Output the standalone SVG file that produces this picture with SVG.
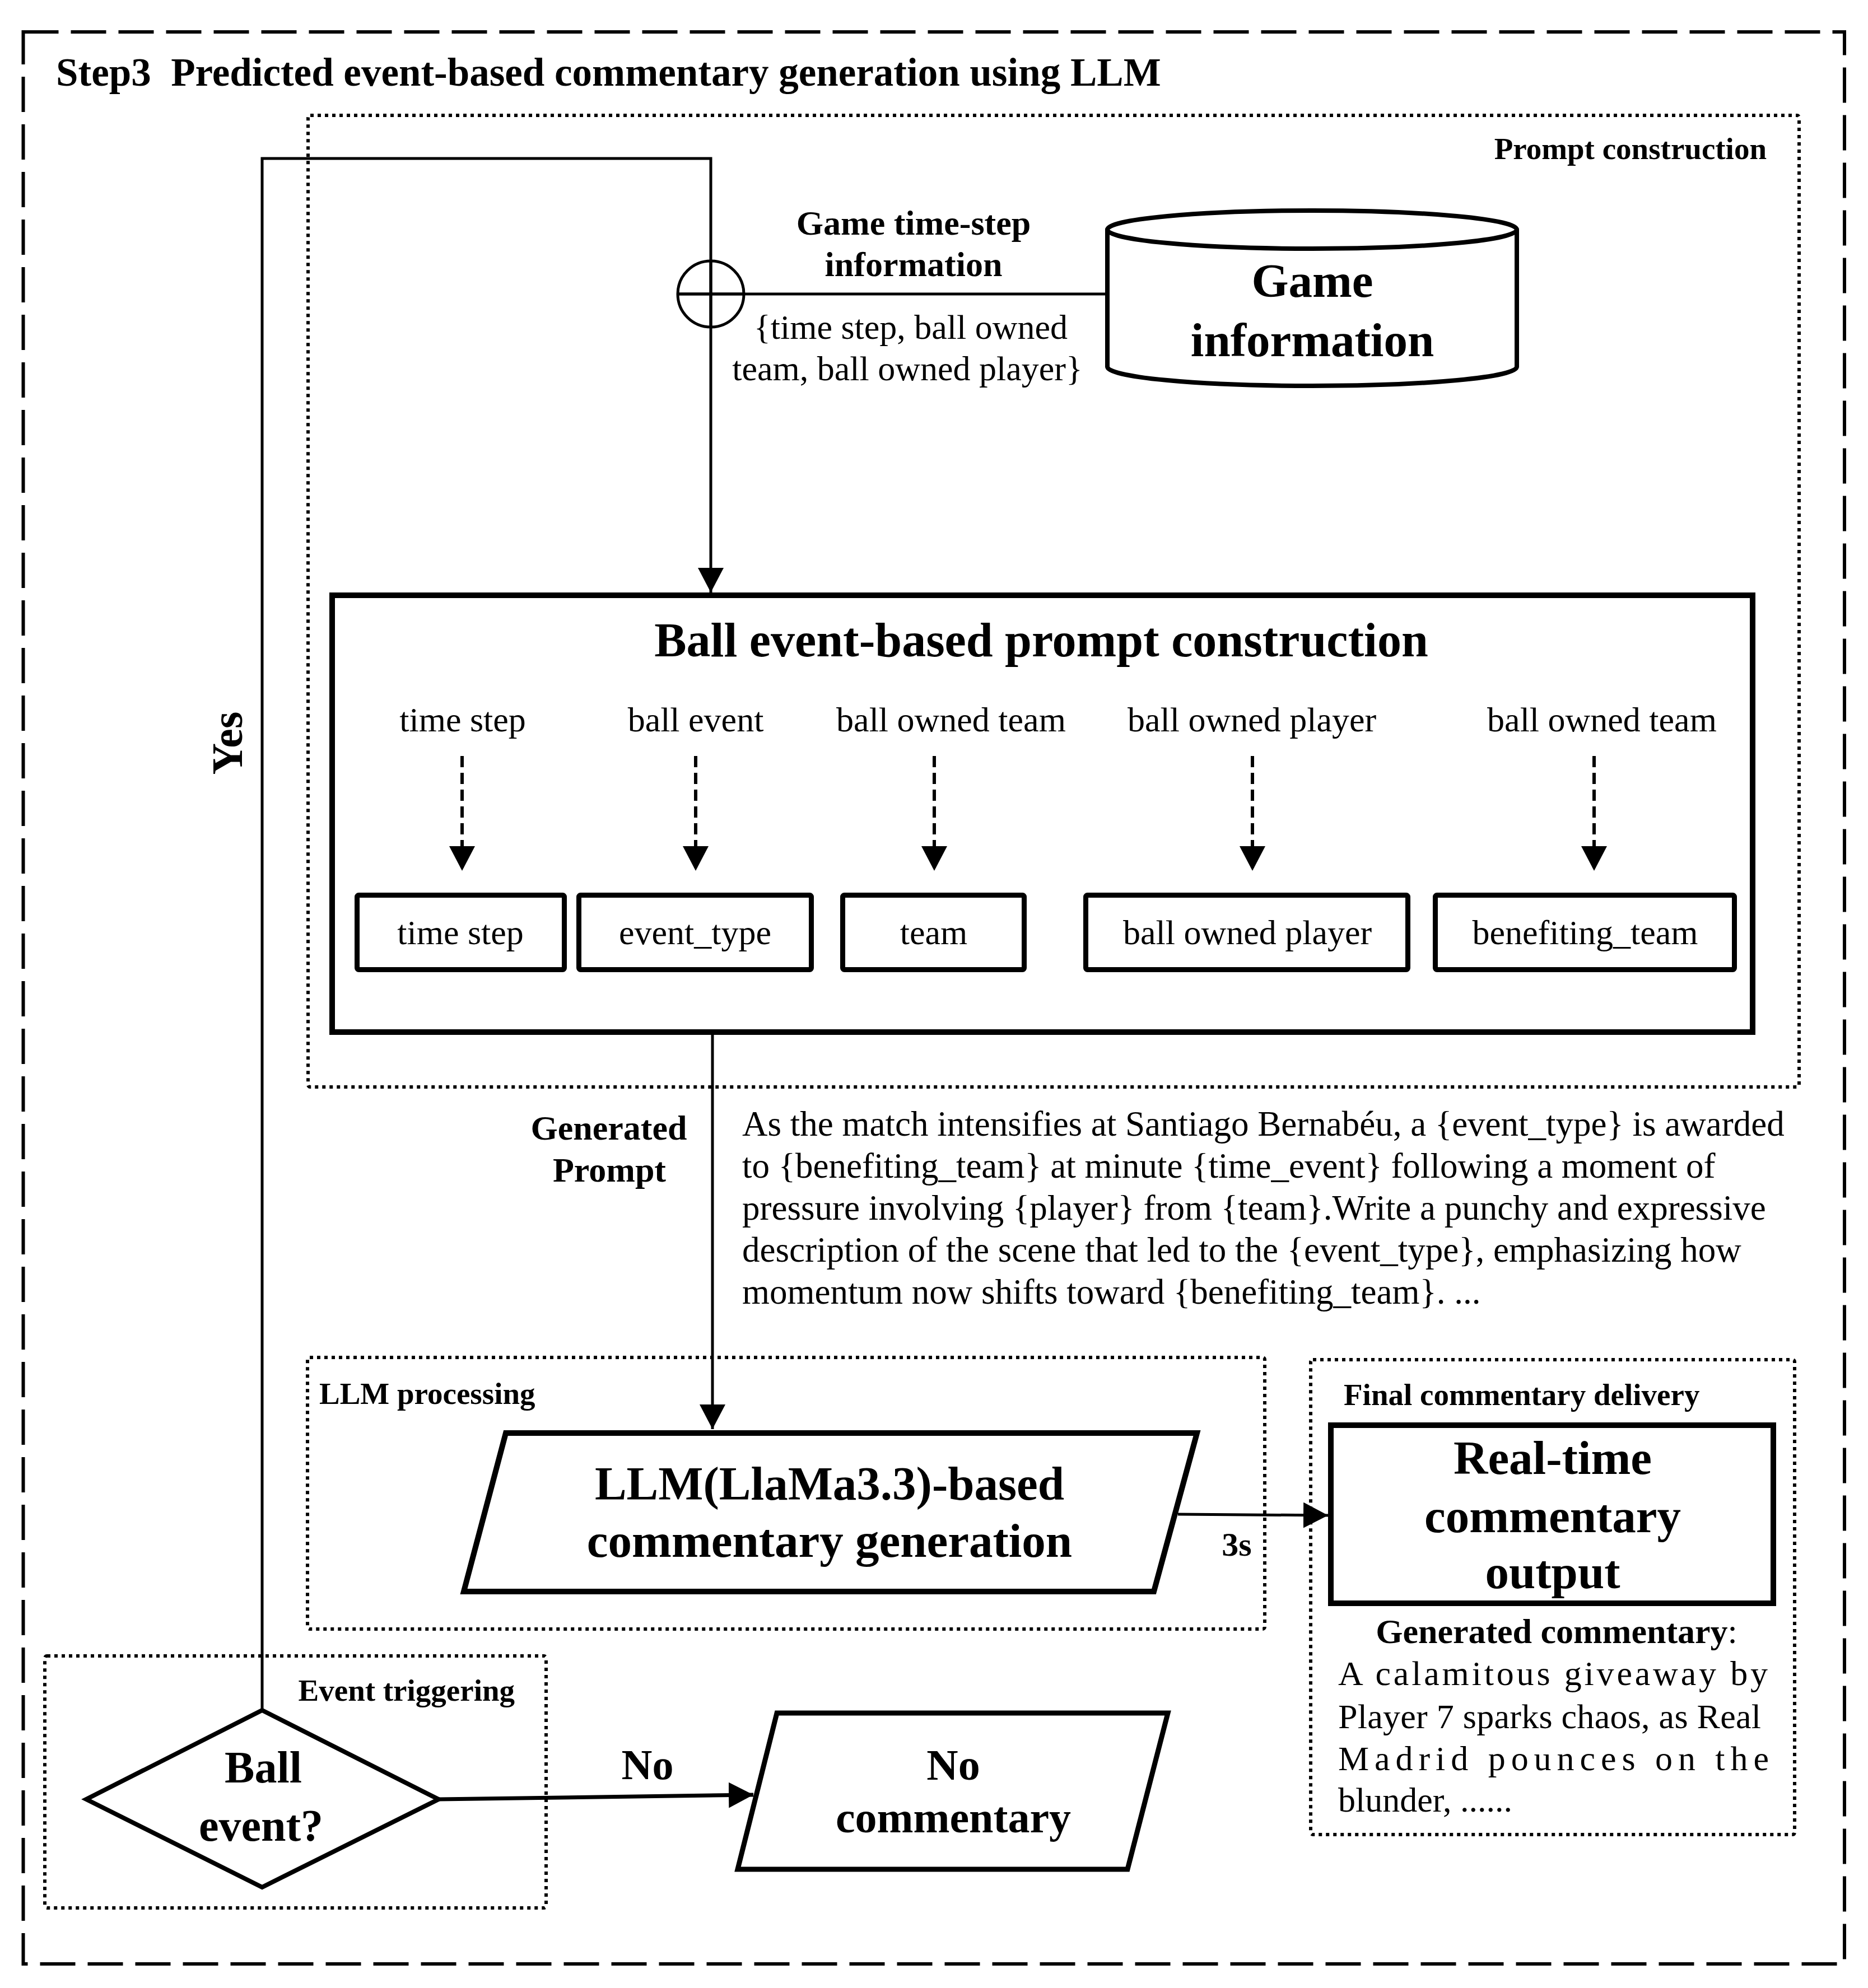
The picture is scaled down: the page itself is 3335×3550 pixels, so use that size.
<svg xmlns="http://www.w3.org/2000/svg" width="3335" height="3550" viewBox="0 0 3335 3550">
<style>
text{font-family:"Liberation Serif","Times New Roman",serif;fill:#000}
.b{font-weight:bold}
.big{font-size:85px;font-weight:bold}
.lbl{font-size:62px;font-weight:bold}
.sm{font-size:55px;font-weight:bold}
.reg{font-size:62px}
.para{font-size:63px}
.mid{text-anchor:middle}
.end{text-anchor:end}
.box{fill:#fff;stroke:#000;stroke-width:9;stroke-linejoin:miter}
.dot{fill:none;stroke:#000;stroke-width:6;stroke-dasharray:6 7}
.ln{fill:none;stroke:#000;stroke-width:5}
.thk{fill:none;stroke:#000;stroke-width:7}
.dash{fill:none;stroke:#000;stroke-width:6;stroke-dasharray:20 10}
</style>
<defs>
<marker id="ah" markerUnits="userSpaceOnUse" markerWidth="48" markerHeight="48" refX="44" refY="23" orient="auto" viewBox="0 0 48 48">
<path d="M0,0 L44,23 L0,46 Z" fill="#000"/>
</marker>
</defs>
<rect width="3335" height="3550" fill="#fff"/>

<g id="step3-frame">
<rect x="41.5" y="57" width="3251.5" height="3450" fill="none" stroke="#000" stroke-width="6" stroke-dasharray="63 22"/>
<text x="100" y="153" class="b" style="font-size:71px;white-space:pre" xml:space="preserve">Step3  Predicted event-based commentary generation using LLM</text>
</g>

<g id="prompt-construction-group">
<rect x="550" y="206" width="2662" height="1735" rx="4" class="dot"/>
<text x="3154" y="284" class="sm end">Prompt construction</text>
</g>

<g id="llm-processing-group">
<rect x="549" y="2424" width="1709" height="485" rx="4" class="dot"/>
<text x="570" y="2507" class="sm">LLM processing</text>
</g>

<g id="final-delivery-group">
<rect x="2340" y="2428" width="864" height="848" rx="4" class="dot"/>
<text x="2399" y="2509" class="sm">Final commentary delivery</text>
</g>

<g id="event-triggering-group">
<rect x="80" y="2957" width="895" height="450" rx="4" class="dot"/>
<text x="919" y="3037" class="sm end">Event triggering</text>
</g>

<g id="connectors">
<path d="M468 3054 V283 H1269 V1058" class="ln" marker-end="url(#ah)"/>
<path d="M1210 525 H1974" class="ln"/>
<path d="M1272 1848 V2552" class="ln" marker-end="url(#ah)"/>
<path d="M2103 2704 L2371 2706" class="ln" stroke-width="6" marker-end="url(#ah)"/>
<path d="M783 3213 L1345 3205" class="thk" marker-end="url(#ah)"/>
<path d="M825 1350 V1555" class="dash" marker-end="url(#ah)"/>
<path d="M1242 1350 V1555" class="dash" marker-end="url(#ah)"/>
<path d="M1668 1350 V1555" class="dash" marker-end="url(#ah)"/>
<path d="M2236 1350 V1555" class="dash" marker-end="url(#ah)"/>
<path d="M2846 1350 V1555" class="dash" marker-end="url(#ah)"/>
<text x="1631" y="419" class="lbl mid">Game time-step</text>
<text x="1631" y="493" class="lbl mid">information</text>
<text x="1626" y="605" class="reg mid">{time step, ball owned</text>
<text x="1620" y="679" class="reg mid">team, ball owned player}</text>
<text transform="translate(432,1327) rotate(-90)" class="mid b" style="font-size:78px">Yes</text>
<text x="1087" y="2035" class="lbl mid">Generated</text>
<text x="1088" y="2110" class="lbl mid">Prompt</text>
<text x="2208" y="2778" class="b mid" style="font-size:60px">3s</text>
<text x="1156" y="3177" class="b mid" style="font-size:76px">No</text>
</g>

<g id="sum-junction">
<circle cx="1269" cy="525" r="59" fill="none" stroke="#000" stroke-width="5"/>
<path d="M1210 525 H1328 M1269 466 V584" class="ln"/>
</g>

<g id="game-information">
<path d="M1977 410 V655 A365.5 34 0 0 0 2708 655 V410" fill="#fff" stroke="#000" stroke-width="8"/>
<ellipse cx="2342.5" cy="410" rx="365.5" ry="34" fill="#fff" stroke="#000" stroke-width="8"/>
<text x="2343" y="530" class="big mid">Game</text>
<text x="2343" y="636" class="big mid">information</text>
</g>

<g id="ball-event-prompt-construction">
<rect x="593" y="1063" width="2536" height="780" fill="none" stroke="#000" stroke-width="10"/>
<text x="1859" y="1172" class="mid b" style="font-size:86px">Ball event-based prompt construction</text>
<text x="826" y="1306" class="reg mid">time step</text>
<text x="1242" y="1306" class="reg mid">ball event</text>
<text x="1698" y="1306" class="reg mid">ball owned team</text>
<text x="2235" y="1306" class="reg mid">ball owned player</text>
<text x="2860" y="1306" class="reg mid">ball owned team</text>
</g>

<g id="field-time-step">
<rect x="637.5" y="1598.5" width="370" height="133" rx="3" class="box"/>
<text x="822" y="1686" class="reg mid">time step</text>
</g>
<g id="field-event-type">
<rect x="1033.5" y="1598.5" width="415" height="133" rx="3" class="box"/>
<text x="1241" y="1686" class="reg mid">event_type</text>
</g>
<g id="field-team">
<rect x="1504.5" y="1598.5" width="324" height="133" rx="3" class="box"/>
<text x="1667" y="1686" class="reg mid">team</text>
</g>
<g id="field-ball-owned-player">
<rect x="1938.5" y="1598.5" width="575" height="133" rx="3" class="box"/>
<text x="2227" y="1686" class="reg mid">ball owned player</text>
</g>
<g id="field-benefiting-team">
<rect x="2562.5" y="1598.5" width="534" height="133" rx="3" class="box"/>
<text x="2830" y="1686" class="reg mid">benefiting_team</text>
</g>

<g id="generated-prompt-text">
<text x="1325" y="2028" class="para">As the match intensifies at Santiago Bernabéu, a {event_type} is awarded</text>
<text x="1325" y="2103" class="para">to {benefiting_team} at minute {time_event} following a moment of</text>
<text x="1325" y="2178" class="para">pressure involving {player} from {team}.Write a punchy and expressive</text>
<text x="1325" y="2253" class="para">description of the scene that led to the {event_type}, emphasizing how</text>
<text x="1325" y="2328" class="para">momentum now shifts toward {benefiting_team}. ...</text>
</g>

<g id="llm-generation">
<polygon points="903,2559 2137,2559 2060,2842 828,2842" fill="#fff" stroke="#000" stroke-width="10"/>
<text x="1481" y="2678" class="big mid">LLM(LlaMa3.3)-based</text>
<text x="1481" y="2780" class="big mid">commentary generation</text>
</g>

<g id="realtime-output">
<rect x="2376" y="2545" width="790" height="318" fill="#fff" stroke="#000" stroke-width="10"/>
<text x="2772" y="2632" class="big mid">Real-time</text>
<text x="2772" y="2736" class="big mid">commentary</text>
<text x="2772" y="2836" class="big mid">output</text>
</g>

<g id="generated-commentary">
<text x="2779" y="2934" class="reg mid"><tspan font-weight="bold">Generated commentary</tspan>:</text>
<text x="2389" y="3009" class="reg" textLength="767" lengthAdjust="spacing">A calamitous giveaway by</text>
<text x="2389" y="3086" class="reg" textLength="755" lengthAdjust="spacing">Player 7 sparks chaos, as Real</text>
<text x="2389" y="3161" class="reg" textLength="769" lengthAdjust="spacing">Madrid pounces on the</text>
<text x="2389" y="3235" class="reg">blunder, ......</text>
</g>

<g id="ball-event-decision">
<polygon points="468,3054 783,3213 468,3370 154,3213" fill="#fff" stroke="#000" stroke-width="8"/>
<text x="470" y="3183" class="mid b" style="font-size:80px">Ball</text>
<text x="466" y="3287" class="mid b" style="font-size:80px">event?</text>
</g>

<g id="no-commentary">
<polygon points="1387,3059 2085,3059 2013,3338 1317,3338" fill="#fff" stroke="#000" stroke-width="9"/>
<text x="1702" y="3178" class="mid b" style="font-size:78px">No</text>
<text x="1702" y="3272" class="mid b" style="font-size:78px">commentary</text>
</g>
</svg>
